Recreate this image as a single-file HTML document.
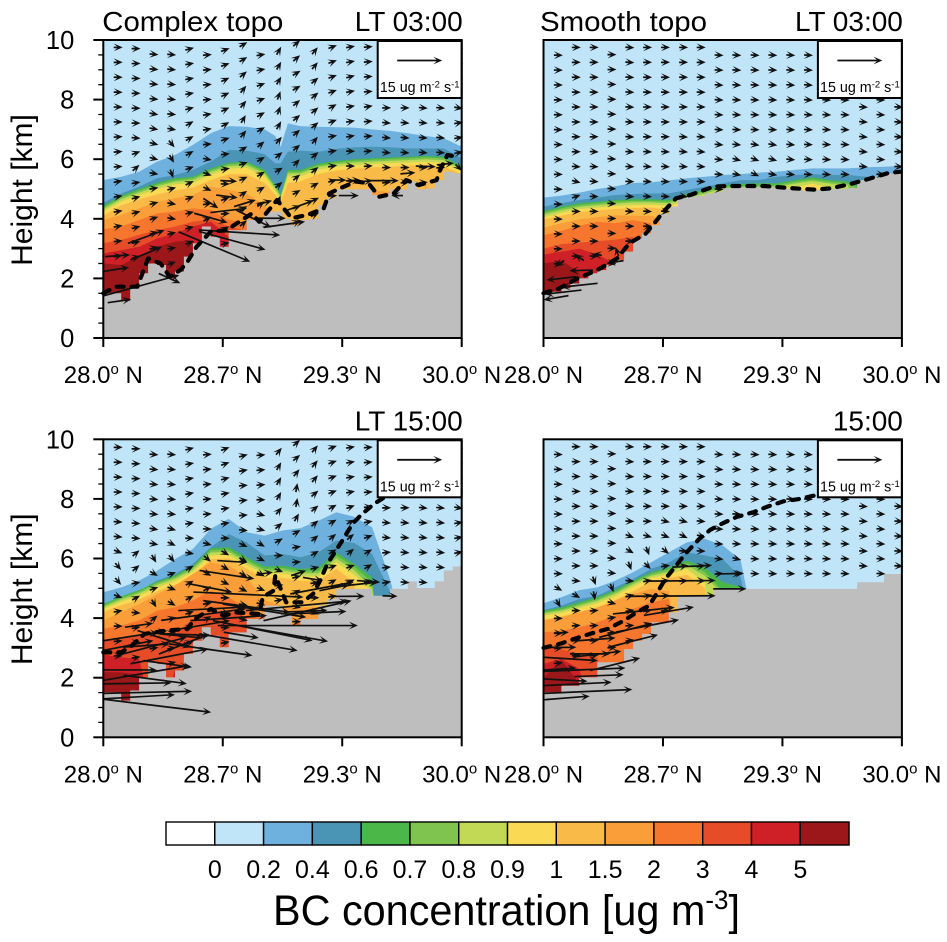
<!DOCTYPE html>
<html lang="en">
<head>
<meta charset="utf-8">
<title>BC concentration cross sections</title>
<style>
html,body{margin:0;padding:0;background:#fff;}
svg{display:block;font-family:"Liberation Sans",Arial,sans-serif;}
</style>
</head>
<body>
<svg id="chart" xmlns="http://www.w3.org/2000/svg" width="947" height="942" viewBox="0 0 947 942"></svg>
<script>
/* ---------- shared axis data ---------- */
const yTicks=[0,2,4,6,8,10];
const yMinorTicks=[0.5,1,1.5,2.5,3,3.5,4.5,5,5.5,6.5,7,7.5,8.5,9,9.5];
const xTicks=[28,28.6667,29.3333,30];
const xTickLabels=["28.0","28.7","29.3","30.0"];
const colorLabels=["0","0.2","0.4","0.6","0.7","0.8","0.9","1","1.5","2","3","4","5"];
const bandColors=["#ffffff","#c0e5f8","#6fb1de","#4a94b5","#4bb749","#7ec44f","#c1d955","#fad955","#f9ba47","#f99e38","#f6762e","#e64c28","#cf2027","#9b1719"];
const arrowLats=[28.083,28.183,28.283,28.382,28.482,28.581,28.681,28.782,28.88,28.98,29.079,29.181,29.28,29.38,29.479,29.581,29.684,29.786,29.883,29.983];
const gridLats=[28,28.1,28.2,28.3,28.4,28.5,28.6,28.7,28.8,28.9,29,29.1,29.2,29.3,29.4,29.5,29.6,29.7,29.8,29.9,30];

/* ---------- panel A: complex topo, LT 03:00 ---------- */
const aLats=[28,28.1,28.2,28.3,28.4,28.5,28.6,28.7,28.8,28.9,28.96,28.99,29.03,29.1,29.2,29.3,29.4,29.5,29.6,29.7,29.8,29.9,30];
const aTop1=[5.3,5.41,5.58,5.92,6.14,6.48,6.87,7.11,7.09,7.0,6.78,6.42,7.2,7.11,7.09,7.07,7.06,7.0,6.95,6.87,6.78,6.7,6.42];
const aTop2=[4.54,4.85,5.08,5.36,5.47,5.64,5.92,6.31,6.29,6.17,5.86,5.86,6.25,6.29,6.25,6.35,6.4,6.42,6.4,6.36,6.36,6.36,6.03];
const aTop3=[4.44,4.78,5.0,5.21,5.36,5.41,5.69,5.88,5.92,5.64,5.13,4.83,5.64,5.64,5.86,5.94,6.0,6.03,6.06,6.08,6.11,6.08,5.77];
const aTop4=[4.38,4.72,4.94,5.15,5.3,5.36,5.63,5.83,5.87,5.58,5.08,4.78,5.58,5.58,5.8,5.89,5.95,5.98,6.01,6.03,6.06,6.03,5.72];
const aTop5=[4.32,4.66,4.88,5.09,5.24,5.3,5.57,5.77,5.8,5.52,5.02,4.73,5.52,5.52,5.74,5.83,5.89,5.92,5.95,5.97,6.0,5.97,5.66];
const aTop6=[4.25,4.58,4.8,5.0,5.15,5.2,5.48,5.68,5.71,5.42,4.94,4.66,5.42,5.43,5.65,5.75,5.8,5.84,5.87,5.89,5.92,5.88,5.6];
const aTop7=[4.1,4.45,4.65,4.82,4.95,5.05,5.3,5.5,5.5,5.2,4.8,4.55,5.2,5.25,5.5,5.62,5.68,5.72,5.75,5.78,5.8,5.75,5.5];
const aTop8=[3.96,4.13,4.35,4.57,4.69,4.8,5.08,4.97,4.85,4.46,4.07,3.5,3.85,3.96,3.9,0,0,4.95,4.9,0,5.2,0,0];
const aTop9=[3.65,3.74,3.96,4.18,4.24,4.35,4.3,3.96,3.87,3.2];
const aTop10=[3.18,3.29,3.46,3.62,3.74,3.9,3.98,3.74,3.6];
const aTop11=[2.84,2.95,3.06,3.34,3.51,3.74,3.9,3.4];
const aTop12=[2.5,2.45,2.73,3.06,3.23,3.29,2];
const aTerrain=[1.5,1.5,1.25,1.67,2.17,2.5,2.45,2.0,2.23,2.73,3.18,3.74,3.4,3.06,3.62,3.62,3.96,4.0,4.24,4.24,4.0,3.79,3.96,4.0,4.46,4.69,4.99,4.99,4.99,4.99,4.8,4.85,4.99,4.99,5.25,4.99,5.02,5.3,5.58,5.53];
const aPblLats=[28,28.07,28.19,28.25,28.32,28.37,28.43,28.47,28.52,28.6,28.69,28.73,28.83,28.87,28.97,29.05,29.14,29.23,29.26,29.32,29.41,29.48,29.54,29.62,29.69,29.76,29.86,29.88,29.92,29.98];
const aPblKm=[1.5,1.72,1.72,2.67,2.5,2.06,2.28,2.56,3.06,3.57,3.62,3.79,4.18,3.9,4.63,4.02,4.13,4.35,4.85,5.02,5.25,5.19,4.74,4.85,5.3,5.13,5.3,5.64,6.14,6.08];
const aRowStart=[9.75,9.71,9.52,9.51,9.7,9.5,9.67,9.85,9.5,9.64,9.89,9.64,9.77,9.77,9.77,9.72,9.72,9.72,9.72,9.72];
const aAngles=[
[0,0,-5,-5,15,5,20,30,10,60,40,50,20,10,5,5,5,0,0,0],
[0,0,-5,-5,10,5,20,30,10,60,40,50,20,10,5,5,5,0,0,0],
[0,0,-5,-5,10,5,25,40,20,60,30,40,20,15,5,5,5,0,0,0],
[0,0,-5,-5,10,5,25,50,20,70,30,40,20,10,5,5,5,0,0,0],
[0,0,-10,-5,15,10,25,50,30,70,40,40,30,10,10,0,0,-5,-5,-10],
[0,0,-10,-10,30,10,30,60,30,60,40,40,20,10,5,-5,-5,-5,-5,10],
[5,-5,-15,-50,30,5,20,50,40,50,40,50,10,10,5,-5,-5,-5,-5,10],
[5,20,-15,-60,30,-10,5,30,30,40,40,40,10,0,5,-5,-5,-5,-5,10],
[5,40,-10,-70,20,-20,10,20,30,30,45,40,10,0,5,0,0,0,5,-45],
[10,10,10,15,25,-25,0,25,30,40,40,30,15,0,5,5,5,5,5,5],
[10,15,15,-10,20,10,20,35,35,70,30,25,5,5,-5,-30,-45,10,30,60],
[10,15,20,-10,15,30,5,30,30,85,20,25,-5,-45,-60,-70,10,-30,60,0],
[10,15,15,15,15,25,30,40,20,-30,25,30,-45,0,0,0,0,0,0,0],
[5,15,15,10,20,25,15,-70,30,-60,-30,20,10,0,0,0,0,0,0,0],
[10,15,15,20,-10,-5,-60,25,-20,0,10,0,0,0,0,0,0,0,0,0]
];
const aStrong=[
[28.21,1.76,25.6,7],[28.37,2.0,7.2,-3.3],[28.09,1.24,7.8,1.1],[28.07,2.3,8.9,1.4],[28.08,2.76,8.3,0.6],
[28.24,2.84,10.6,4.4],[28.24,3.4,12.2,4.4],[28.62,3.06,23.9,-10],[28.72,3.27,22.2,-6.1],[28.76,3.54,27.2,-1.7],
[28.7,4.28,12.2,1.4],[28.6,4.03,11.1,-3.1],[28.6,4.52,5,-3.3],[28.69,4.75,7.2,-0.9],[28.7,5.27,5.6,-0.3],
[29.01,3.81,13.9,1.9],[28.84,4.0,11.7,-5.8],[28.94,4.02,9.4,0],[29.09,4.43,10,3.7],[28.79,4.52,7.2,2.2],
[28.9,4.54,5,1.4],[29.37,4.78,6.7,0],[29.64,4.78,-3.9,0],[29.31,5.3,5.6,0],[29.4,5.29,4.4,0.2],
[29.56,5.28,10.6,0],[29.8,5.76,6.7,-0.2],[29.7,5.53,5,0.4],[29.91,5.84,5.6,0.6]
];

/* ---------- panel B: smooth topo, LT 03:00 ---------- */
const bTop1=[4.71,4.78,4.88,5.0,5.09,5.2,5.22,5.29,5.36,5.41,5.47,5.5,5.55,5.58,5.64,5.69,5.69,5.69,5.73,5.75,5.77];
const bTop2=[4.41,4.52,4.63,4.71,4.8,4.83,4.85,4.85,4.97,5.08,5.19,5.3,5.3,5.41,5.47,5.5,5.47,5.47,5.41,5.41,5.5];
const bTop3=[4.26,4.41,4.52,4.57,4.63,4.66,4.66,4.63,4.85,4.97,5.13,5.17,5.19,5.19,5.3,5.39,5.3,5.25,5.0];
const bTop4=[4.2,4.35,4.46,4.52,4.57,4.6,4.6,4.57,4.8,4.91,5.08,5.1,5.12,5.12,5.24,5.32,5.24,5.18,4.9];
const bTop5=[4.14,4.29,4.4,4.46,4.51,4.55,4.55,4.52,4.7,4.85,5.02,5.05,5.06,5.08,5.18,5.27,5.18,5.12];
const bTop6=[4.05,4.2,4.33,4.38,4.43,4.46,4.47,4.44,4.6,4.8,4.9,4.9,4.9,5.0,5.05,5.18,5.05];
const bTop7=[3.98,4.1,4.23,4.28,4.33,4.36,4.38,4.3];
const bTop8=[3.7,3.85,3.98,4.05,4.12,4.1,4.1,3.9];
const bTop9=[3.45,3.6,3.77,3.9,3.85,3.95,3.85];
const bTop10=[3.0,3.15,3.2,3.25,3.3,3.4];
const bTop11=[2.8,2.9,3.0,2.8,2.5];
const bTop12=[2.5,2.6,2.2];
const bTerrain=[1.5,1.55,1.67,1.83,2.0,2.17,2.28,2.45,2.62,2.9,3.34,3.51,3.79,4.18,4.41,4.69,4.74,4.77,4.85,4.91,5.02,5.04,5.06,5.06,5.06,5.06,5.04,5.01,4.97,4.94,4.97,4.99,5.0,5.0,5.03,5.3,5.36,5.41,5.52,5.58];
const bPblLats=[28,28.09,28.19,28.3,28.41,28.48,28.57,28.61,28.67,28.74,28.82,28.95,29.04,29.23,29.4,29.51,29.6,29.71,29.82,29.92,29.99];
const bPblKm=[1.5,1.67,2.0,2.28,2.67,3.18,3.5,3.79,4.24,4.69,4.8,5.08,5.1,5.1,5.02,4.98,5.02,5.16,5.35,5.53,5.58];
const bRowStart=[9.49,9.75,9.75,9.51,9.75,9.75,9.75,9.75,9.75,9.49,9.49,9.49,9.49,9.49,9.49,9.49,9.49,9.75,9.49,9.75];
const bAngles=[
[0,0,0,0,-3,0,0,0,0,-3,-3,-3,-3,-3,-3,-3,-3,-3,-3,-3],
[0,0,0,0,-3,0,0,0,0,-3,-3,-3,-3,-3,-3,-3,-3,-3,-3,-3],
[0,0,0,0,-3,0,0,0,0,-3,-3,-3,-3,-3,-3,-3,-3,-3,-3,-3],
[0,0,0,0,-3,0,0,0,0,-3,-3,-3,-3,-3,-3,-3,-3,-3,-3,-3],
[0,0,0,0,-3,0,0,0,0,-3,-3,-3,-3,-3,-3,-3,-3,-3,-3,-3],
[0,0,0,0,-3,0,0,0,0,-3,-3,-3,-3,-3,-3,-3,-3,-5,-3,-3],
[0,0,0,0,-3,0,0,-3,-3,-5,-5,-10,-10,-5,-3,-3,-3,-5,-3,-3],
[0,0,-3,-3,-3,-3,-3,-5,-5,-5,-15,-20,-15,-5,-3,-3,-3,-5,-3,-3],
[0,-3,-3,-3,-3,-3,-3,-3,-3,-3,-10,-25,-10,-5,-3,-3,-3,-5,-3,-3],
[0,-15,-5,-3,-3,-3,-3,-3,-3,-3,-3,-3,-3,-3,-3,-3,-3,-3,-3,-3],
[0,20,0,-3,-3,-3,-3,-5,-5,-3,-3,-3,-3,-3,-5,-5,180,0,0,0],
[0,0,0,0,-3,-3,-3,150,170,0,0,0,0,-5,60,0,0,0,0,0],
[0,0,0,0,0,0,0,0,0,0,0,0,0,0,0,0,0,0,0,0],
[0,0,0,0,0,-3,-3,-3,0,0,0,0,0,0,0,0,0,0,0,0],
[0,0,0,-5,0,5,0,120,0,0,0,0,0,0,0,0,0,0,0,0]
];
const bStrong=[
[28.2,1.77,-12.2,-1.3],[28.11,1.54,-12.2,-1.4],[28.07,1.35,-8.3,-1.4],[28.1,2.0,-10,-1.1],[28.21,2.27,-7.8,-0.2],[28.4,2.55,-5.6,-0.9],[28.09,2.5,-3,-2],[28.2,2.7,-3,2],[28.3,2.8,-3,0.5],[28.41,2.9,-1,3]
];

/* ---------- panel C: complex topo, LT 15:00 ---------- */
const cTop1=[4.87,5.03,5.26,5.59,5.98,6.32,7.0,7.33,6.88,6.77,6.94,7.02,7.27,7.55,7.4,7.05,5.31,3];
const cTop2=[4.5,4.65,4.92,5.26,5.48,5.82,6.38,6.82,6.54,6.1,6.15,6.04,6.2,6.6,6.52,6.15,4.9];
const cTop3=[4.47,4.73,4.94,5.23,5.43,5.76,6.35,6.38,6.04,5.73,5.76,5.65,5.68,6.2,5.82,5.37];
const cTop4=[4.42,4.68,4.89,5.18,5.38,5.7,6.28,6.3,5.95,5.65,5.68,5.57,5.58,6.1,5.72,5.2];
const cTop5=[4.37,4.62,4.83,5.12,5.32,5.63,6.2,6.22,5.87,5.57,5.6,5.5,5.5,6.0,5.6,5.0];
const cTop6=[4.3,4.55,4.75,5.03,5.24,5.55,6.1,6.12,5.78,5.48,5.5,5.4,5.4,5.88,5.45,4.9];
const cTop7=[4.2,4.43,4.62,4.9,5.12,5.4,5.98,6.0,5.65,5.35,5.35,5.25,5.25,5.65,5.2];
const cTop8=[3.92,4.2,4.47,4.8,5.09,5.48,5.87,5.76,5.37,4.59,4.42,4.36,4.36];
const cTop9=[3.64,3.75,3.92,4.25,4.36,4.59,4.92,4.7,4.31,4.08,3.5,4.0];
const cTop10=[3.24,3.3,3.41,3.41,3.47,3.97,4.19,4.25,4.03];
const cTop11=[2.77,2.68,2.63,0,2.3,0,0,3.0];
const cTop12=[2.18,2.18,2.1];
const cTerrain=[1.51,1.51,1.23,1.57,2.01,2.52,2.46,2.01,2.24,2.8,3.24,3.69,3.41,3.02,3.52,3.52,3.97,3.97,4.42,4.42,4.19,3.75,3.97,3.97,4.42,4.64,4.98,4.98,4.98,4.98,4.75,4.75,4.98,4.98,5.23,5.01,5.01,5.23,5.6,5.73];
const cPblLats=[28,28.1,28.16,28.23,28.35,28.47,28.51,28.6,28.67,28.74,28.87,28.89,28.95,28.96,29.02,29.11,29.17,29.21,29.25,29.34,29.39,29.44,29.51,29.6];
const cPblKm=[2.85,2.85,3.08,3.47,3.58,3.64,3.97,4.31,4.08,4.19,4.14,4.7,4.92,5.43,4.53,4.53,4.81,5.26,5.82,6.66,7.16,7.47,7.83,8.17];
const cRowStart=[9.73,9.68,9.49,9.49,9.68,9.49,9.68,9.45,9.47,9.6,9.88,9.68,9.73,9.73,9.73,9.7,9.7,9.7,9.7,9.7];
const cAngles=[
[0,0,-5,-5,15,5,20,15,5,50,40,50,20,10,5,5,5,0,0,0],
[0,0,-5,-5,10,5,20,10,5,60,40,50,20,10,5,5,5,0,0,0],
[0,0,-5,-5,10,5,15,5,5,60,50,50,20,10,5,5,5,0,0,0],
[0,0,-5,-5,10,5,10,5,0,60,80,40,20,10,5,5,5,0,0,0],
[0,0,-5,-5,10,5,10,5,-15,50,80,40,30,20,5,0,0,-5,-5,-10],
[-3,-3,-10,-15,10,0,10,-5,-15,40,60,40,30,30,10,-5,-5,-5,-5,10],
[-5,-5,-10,-25,0,-15,0,-25,-30,30,30,40,40,40,20,-5,-5,-5,-5,10],
[-20,40,-60,-50,-10,-40,-30,-30,-25,0,10,30,30,40,30,5,-5,-5,-5,10],
[-50,40,-30,20,30,-30,-30,-30,-30,-20,5,15,20,20,30,5,-5,-5,-5,10],
[-50,10,20,-20,30,30,-25,-25,-20,5,15,5,30,25,10,10,-5,-5,5,5],
[-20,30,-60,-30,30,10,0,-10,-15,10,30,0,10,20,5,-10,-5,10,20,0],
[10,-5,40,15,20,30,-15,-15,-10,-10,-15,-20,0,0,0,0,0,0,0,0],
[0,10,0,10,10,20,0,-10,-5,-5,0,0,0,0,0,0,0,0,0,0],
[5,5,10,10,20,20,10,0,0,0,0,0,0,0,0,0,0,0,0,0],
[0,10,10,15,20,0,0,0,0,0,0,0,0,0,0,0,0,0,0,0]
];
const cStrong=[
[28.3,1.06,36.1,-4.4],[28.2,1.36,23.9,1.4],[28.25,1.51,29.4,0.7],[28.19,1.81,22.8,0.3],[28.29,1.94,21.1,-2.8],
[28.15,2.26,17.8,0],[28.24,2.16,28.9,5],[28.37,2.72,26.1,5],[28.6,2.94,27.8,-3.9],[28.81,3.19,32.8,-5.6],
[28.89,3.58,33.3,-6.7],[28.98,3.51,32.8,-5.8],[29.03,3.75,46.7,0],[28.77,3.43,11.7,-1.9],[28.45,3.45,17.8,-0.6],
[28.7,4.0,25.6,1.7],[28.6,4.31,21.7,1.1],[28.56,4.12,28.3,3.9],[28.6,5.01,14.4,-2.8],[28.69,5.46,18.3,-2.8],
[28.72,5.9,10,-0.6],[28.81,4.79,36.7,-1.7],[28.8,4.39,28.9,-3.9],[28.9,4.25,27.8,-4.4],[29.08,4.41,33.9,3.1],
[29.14,4.25,29.4,6.7],[29.19,4.18,20,0.9],[29.22,5.01,21.1,3.9],[29.36,4.73,11.7,0.1],[29.4,5.12,15.6,1.7],
[29.13,4.23,14.4,0.6],[28.2,3.76,9.4,1.3],[28.54,3.75,20,3.3],[28.18,3.41,21.1,3.3],[28.14,3.08,16.7,3.3],
[28.27,3.05,23.3,6.1],[28.34,3.3,17.8,-5.6],[28.45,3.13,16.7,6.7],[28.36,2.46,16.1,-2.2],[29.17,5.31,6.7,-1.1],
[29.48,5.23,7.8,-0.6],[29.6,4.74,5,-0.2],[29.29,5.02,10,2],[28.24,3.08,15.6,1.1],[28.44,3.4,13.9,-1.3],
[28.9,5.5,5.6,0.8],[29.09,5.51,5,1.7]
];

/* ---------- panel D: smooth topo, 15:00 ---------- */
const dTop1=[4.5,4.7,4.94,5.03,5.26,5.54,5.87,6.21,6.54,6.66,6.44,5.95,3];
const dTop2=[4.27,4.42,4.64,4.75,5.03,5.31,5.65,5.87,6.21,6.1,5.98,5.37,2.5];
const dTop3=[4.25,4.36,4.53,4.7,4.94,5.26,5.54,5.7,5.93,5.7,5.2,5.05];
const dTop4=[4.2,4.3,4.47,4.64,4.88,5.2,5.48,5.63,5.85,5.55,4.9];
const dTop5=[4.15,4.25,4.41,4.58,4.82,5.14,5.42,5.55,5.78,5.42,4.8];
const dTop6=[4.08,4.18,4.34,4.5,4.74,5.06,5.35,5.47,5.65,5.2];
const dTop7=[3.95,4.05,4.2,4.35,4.6,4.9,5.22,5.35,5.45,5.0];
const dTop8=[3.92,4.03,4.2,4.36,4.59,4.81,4.98,4.9];
const dTop9=[3.52,3.58,3.69,3.86,4.08,4.31,4.53,4.64];
const dTop10=[3.02,2.96,2.8,2.68];
const dTop11=[2.46,2.63,2.3];
const dTop12=[2.0,2.6,1.8];
const dTerrain=[1.51,1.51,1.73,1.73,2.01,2.01,2.52,2.52,2.52,2.96,3.24,3.47,3.86,3.86,4.19,4.75,4.75,4.75,4.75,4.98,4.98,4.98,4.98,4.98,4.98,4.98,4.98,4.98,4.98,4.98,4.98,4.98,4.98,4.98,4.98,5.2,5.2,5.2,5.48,5.48];
const dPblLats=[28,28.1,28.2,28.27,28.36,28.45,28.52,28.59,28.63,28.68,28.74,28.79,28.87,28.93,29.0,29.08,29.17,29.25,29.34,29.43,29.51];
const dPblKm=[3.0,3.15,3.36,3.49,3.64,3.92,4.19,4.42,4.81,5.32,5.76,6.15,6.66,6.96,7.18,7.4,7.55,7.74,7.92,8.0,8.11];
const dRowStart=[9.49,9.75,9.75,9.51,9.75,9.75,9.75,9.75,9.75,9.49,9.49,9.49,9.49,9.49,9.49,9.49,9.49,9.75,9.49,9.75];
const dAngles=[
[0,0,0,0,-3,0,0,0,0,-3,-3,-3,-3,-3,-3,-3,-3,-3,-3,-3],
[0,0,0,0,-3,0,0,0,0,-3,-3,-3,-3,-3,-3,-3,-3,-3,-3,-3],
[0,0,0,0,-3,0,0,0,0,-3,-3,-3,-3,-3,-3,-3,-3,-3,-3,-3],
[0,0,0,0,-3,0,0,0,0,-3,-3,-3,-3,-3,-3,-3,-3,-3,-3,-3],
[0,0,0,0,-3,0,0,0,0,-3,-3,-3,-3,-3,-3,-3,-3,-3,-3,-3],
[0,0,0,0,-3,0,-15,-15,-5,-3,-3,-3,-3,-3,-3,-3,-3,-3,-3,-3],
[0,0,0,0,-20,-15,-20,-25,-15,-3,-3,-3,-3,-3,-3,-3,-3,-3,-3,-3],
[0,0,0,-5,-30,-70,-40,-5,-3,-5,-15,-3,-3,-3,-3,-3,-3,-3,-3,-3],
[0,0,0,-5,-70,-45,10,10,10,5,-3,-3,-3,-3,-3,-3,-3,-3,-3,-3],
[-30,-5,-70,-70,-5,10,5,5,0,0,0,0,-3,-3,-3,-3,-3,-3,-3,-3],
[-60,-30,-80,-15,15,15,5,5,0,0,0,0,0,0,0,0,0,5,10,0],
[0,0,5,10,10,10,5,0,0,0,0,0,0,0,0,0,0,0,0,0],
[0,5,5,5,5,5,5,0,0,0,0,0,0,0,0,0,0,0,0,0],
[5,5,5,5,10,5,10,0,0,0,0,0,0,0,0,0,0,0,0,0],
[5,5,5,10,5,10,0,0,0,0,0,0,0,0,0,0,0,0,0,0]
];
const dStrong=[
[28.13,1.32,15.3,1.2],[28.25,1.54,29.4,1.3],[28.19,1.79,22.8,1.1],[28.12,1.92,15,-0.8],[28.31,2.07,16.4,0.6],
[28.23,2.27,27.2,1.1],[28.09,2.29,11.1,0.7],[28.4,2.45,16.7,4.2],[28.15,2.63,18.3,-1.1],[28.3,2.79,16.1,1.9],
[28.5,3.23,16.7,4.2],[28.46,3.59,17.8,4.7],[28.58,3.74,21.1,4.1],[28.7,4.23,16.7,2.8],[28.56,4.25,20.6,2.2],
[28.71,4.74,30,0.2],[28.77,5.25,22.8,0.2],[28.83,5.74,13.3,0.6],[29.04,5.49,9.4,0.2],[29.04,4.98,11.1,0],
[28.09,3.02,11.1,0],[28.1,3.51,5,0.3],[28.3,3.29,12.2,0.9],[28.26,2.8,13.3,0]
];

const refArrowUnits=15;
const panels=[
 {id:"complex-0300",left:103.3,top:40,lats:aLats,tops:[aTop1,aTop2,aTop3,aTop4,aTop5,aTop6,aTop7,aTop8,aTop9,aTop10,aTop11,aTop12],terrain:aTerrain,pblLats:aPblLats,pblKm:aPblKm,rowStart:aRowStart,angles:aAngles,strong:aStrong,showY:true,titleL:"Complex topo",titleR:"LT 03:00"},
 {id:"smooth-0300",left:543.5,top:40,lats:gridLats,tops:[bTop1,bTop2,bTop3,bTop4,bTop5,bTop6,bTop7,bTop8,bTop9,bTop10,bTop11,bTop12],terrain:bTerrain,pblLats:bPblLats,pblKm:bPblKm,rowStart:bRowStart,angles:bAngles,strong:bStrong,showY:false,titleL:"Smooth topo",titleR:"LT 03:00"},
 {id:"complex-1500",left:103.3,top:439.3,lats:gridLats,tops:[cTop1,cTop2,cTop3,cTop4,cTop5,cTop6,cTop7,cTop8,cTop9,cTop10,cTop11,cTop12],terrain:cTerrain,pblLats:cPblLats,pblKm:cPblKm,rowStart:cRowStart,angles:cAngles,strong:cStrong,showY:true,titleL:"",titleR:"LT 15:00"},
 {id:"smooth-1500",left:543.5,top:439.3,lats:gridLats,tops:[dTop1,dTop2,dTop3,dTop4,dTop5,dTop6,dTop7,dTop8,dTop9,dTop10,dTop11,dTop12],terrain:dTerrain,pblLats:dPblLats,pblKm:dPblKm,rowStart:dRowStart,angles:dAngles,strong:dStrong,showY:false,titleL:"",titleR:"15:00"}
];

const NS="http://www.w3.org/2000/svg";
const root=document.getElementById("chart");
const PW=358.4,PH=298,PX_PER_UNIT=3;

function make(tag,parent,attrs){
  const n=document.createElementNS(NS,tag);
  for(const k in attrs){n.setAttribute(k,attrs[k]);}
  parent.appendChild(n);
  return n;
}
function arrowPath(cx,cy,u,w,minLen){
  let len=Math.hypot(u,w)*PX_PER_UNIT;
  const ang=Math.atan2(-w,u);
  if(len<minLen){len=minLen;}
  const c=Math.cos(ang),s=Math.sin(ang);
  const pt=(a,b)=>(cx+a*c-b*s).toFixed(1)+" "+(cy+a*s+b*c).toFixed(1);
  const h=len/2;
  const hl=9,hw=3.9,notch=5.6,t=0.85;
  return "M"+pt(-h,-t)+"L"+pt(h-notch,-t)+"L"+pt(h-hl,-hw)+"L"+pt(h,0)+"L"+pt(h-hl,hw)+"L"+pt(h-notch,t)+"L"+pt(-h,t)+"Z";
}

panels.forEach(function(p){
  const xs=lat=>p.left+(lat-28)/2*PW;
  const ys=km=>p.top+PH-km/10*PH;
  const g=make("g",root,{});
  
  

  const bg=make("rect",g,{x:p.left,y:p.top,width:PW,height:PH,fill:bandColors[1]});
  
  

  p.tops.forEach(function(top,k){
    let d="M"+xs(p.lats[0]).toFixed(1)+" "+ys(0).toFixed(1);
    p.lats.forEach(function(lat,i){
      const v=top[i]||0;
      d+="L"+xs(lat).toFixed(1)+" "+ys(v).toFixed(1);
    });
    d+="L"+xs(p.lats[p.lats.length-1]).toFixed(1)+" "+ys(0).toFixed(1)+"Z";
    const band=make("path",g,{d:d,fill:bandColors[k+2]});
    
    
  });

  let td="M"+xs(28).toFixed(1)+" "+ys(0).toFixed(1);
  p.terrain.forEach(function(km,i){
    const a=28+i*2/p.terrain.length,b=28+(i+1)*2/p.terrain.length;
    td+="L"+xs(a).toFixed(1)+" "+ys(km).toFixed(1)+"L"+xs(b).toFixed(1)+" "+ys(km).toFixed(1);
  });
  td+="L"+xs(30).toFixed(1)+" "+ys(0).toFixed(1)+"Z";
  const terr=make("path",g,{d:td,fill:"#bebebe"});
  
  

  const terrainAt=lat=>p.terrain[Math.min(p.terrain.length-1,Math.max(0,Math.floor((lat-28)/2*p.terrain.length)))];

  p.angles.forEach(function(row,j){
    row.forEach(function(deg,i){
      const lat=arrowLats[i];
      const km=p.rowStart[i]-0.5*j;
      if(km<=terrainAt(lat)+0.05||km>10){return;}
      const r=deg*Math.PI/180;
      const a=make("path",g,{d:arrowPath(xs(lat),ys(km),Math.cos(r),Math.sin(r),9),fill:"#111"});
      
      
    });
  });
  p.strong.forEach(function(v){
    const a=make("path",g,{d:arrowPath(xs(v[0]),ys(v[1]),v[2],v[3],9),fill:"#111"});
    
    
  });

  const pts=p.pblLats.map((lat,i)=>xs(lat).toFixed(1)+","+ys(p.pblKm[i]).toFixed(1)).join(" ");
  const pbl=make("polyline",g,{points:pts,fill:"none",stroke:"#000","stroke-width":4.2,"stroke-dasharray":"7 8","stroke-linecap":"round","stroke-linejoin":"round"});
  
  

  const box=make("rect",g,{x:p.left+PW-84,y:p.top+1,width:84,height:57,fill:"#fff",stroke:"#000","stroke-width":2});
  
  
  const rx=p.left+PW-42,ry=p.top+20.5;
  const ra=make("path",g,{d:arrowPath(rx,ry,refArrowUnits,0,9),fill:"#111"});
  
  
  const rt=make("text",g,{x:rx,y:p.top+52,"text-anchor":"middle","font-size":14.3,fill:"#000"});
  
  
  rt.innerHTML='15 ug m<tspan dy="-4.5" font-size="9.5">-2</tspan><tspan dy="4.5"> s</tspan><tspan dy="-4.5" font-size="9.5">-1</tspan>';

  const frame=make("rect",g,{x:p.left,y:p.top,width:PW,height:PH,fill:"none",stroke:"#000","stroke-width":2});
  
  

  xTicks.forEach(function(lat,i){
    const t=make("line",g,{x1:xs(lat),x2:xs(lat),y1:p.top+PH,y2:p.top+PH+9,stroke:"#000","stroke-width":2});
    
    
    const l=make("text",g,{x:xs(lat),y:p.top+PH+45,"text-anchor":"middle","font-size":24,fill:"#000"});
    
    
    l.innerHTML=xTickLabels[i]+'<tspan dy="-9" font-size="15">o</tspan><tspan dy="9"> N</tspan>';
  });

  if(p.showY){
    yTicks.forEach(function(km){
      const t=make("line",g,{x1:p.left-10,x2:p.left,y1:ys(km),y2:ys(km),stroke:"#000","stroke-width":2});
      
      
      const l=make("text",g,{x:p.left-29,y:ys(km)+9,"text-anchor":"end","font-size":25.5,fill:"#000"});
      
      
      l.textContent=String(km);
    });
    yMinorTicks.forEach(function(km){
      const t=make("line",g,{x1:p.left-5,x2:p.left,y1:ys(km),y2:ys(km),stroke:"#000","stroke-width":1.3});
      
      
    });
    const yt=make("text",g,{x:0,y:0,"text-anchor":"middle","font-size":30,fill:"#000",transform:"translate(32,"+(p.top+150)+") rotate(-90)"});
    
    
    yt.textContent="Height [km]";
  }
  if(p.titleL){
    const tl=make("text",g,{x:p.id==="complex-0300"?p.left-1:p.left-3.5,y:p.top-9,"font-size":27.5,fill:"#000",textLength:p.id==="complex-0300"?181:167,lengthAdjust:"spacingAndGlyphs"});
    
    
    tl.textContent=p.titleL;
  }
  const tr=make("text",g,{x:p.left+PW+1,y:p.top-9,"text-anchor":"end","font-size":28,fill:"#000"});
  
  
  tr.textContent=p.titleR;
});

/* colour bar */
const cbX=166,cbY=822,cbW=48.79,cbH=23;
const cb=make("g",root,{});


bandColors.forEach(function(col,i){
  const r=make("rect",cb,{x:cbX+i*cbW,y:cbY,width:cbW,height:cbH,fill:col,stroke:"#000","stroke-width":1.4});
  
  
});
colorLabels.forEach(function(t,i){
  const l=make("text",cb,{x:cbX+(i+1)*cbW,y:878,"text-anchor":"middle","font-size":25,fill:"#000"});
  
  
  l.textContent=t;
});
const cbt=make("text",root,{x:273,y:925,"font-size":43,fill:"#000",textLength:467,lengthAdjust:"spacingAndGlyphs"});


cbt.innerHTML='BC concentration [ug m<tspan dy="-16" font-size="27">-3</tspan><tspan dy="16">]</tspan>';
</script>
</body>
</html>
